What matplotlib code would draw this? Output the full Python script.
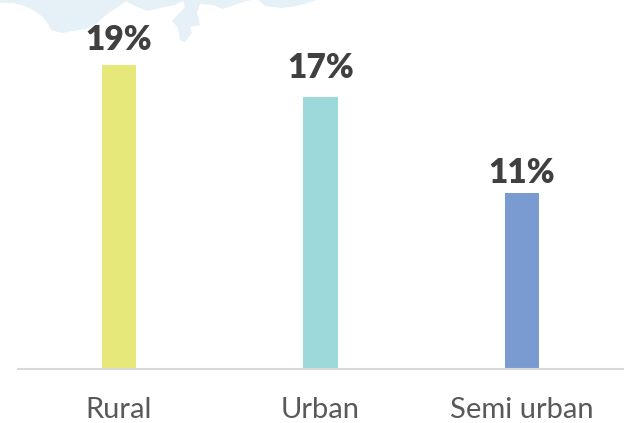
import matplotlib
matplotlib.use("Agg")
import matplotlib.pyplot as plt

categories = ["Rural", "Urban", "Semi urban"]
values = [19, 17, 11]
colors = ["#e6e87a", "#9dd9db", "#7a9bd2"]

# faint map outline behind the chart, in pixels from the top left
map_x = [0, 13, 25, 33, 43, 48, 51, 62, 72, 85, 96, 105, 112, 126, 137, 148, 160, 175, 183, 185,
         172, 178, 180, 185, 192, 190, 200, 197, 200, 213, 223, 243, 252, 258, 265, 282, 297, 317, 317, 0]
map_y = [3, 3, 6, 10, 17, 24, 30, 33, 31, 29, 24, 16, 11, 1, 7, 11, 8, 5, 1, 7,
         21, 28, 40, 42, 33, 27, 25, 13, 4, 5, 9, 2, 0, 0, 6, 8, 6, 0, 0, 0]

W, H = 629, 423
fig = plt.figure(figsize=(W / 100, H / 100), dpi=100)

bg = fig.add_axes([0, 0, 1, 1])
bg.set_xlim(0, W)
bg.set_ylim(H, 0)
bg.axis("off")
bg.fill(map_x, map_y, color="#e5f0f7", linewidth=0)

ax = fig.add_axes([18 / W, (H - 369) / H, 605 / W, 369 / H])
ax.patch.set_alpha(0)
ax.bar(range(3), values, width=0.169, color=colors)
ax.set_xlim(-0.5, 2.5)
ax.set_ylim(0, 369 / 16)

# the labels do not sit at the same distance above each bar
offsets = [6.5, 9.5, 2.8]
for i, v in enumerate(values):
    ax.annotate(f"{v}%", (i, v), xytext=(0, offsets[i]), textcoords="offset points", ha="center", va="bottom",
                fontsize=24, fontweight="heavy", family="Lato", color="#404040")

for s in ["top", "left", "right"]:
    ax.spines[s].set_visible(False)
ax.spines["bottom"].set_color("#d9d9d9")
ax.spines["bottom"].set_linewidth(1.5)
ax.set_yticks([])
ax.set_xticks(range(3))
ax.set_xticklabels(categories, fontsize=21, family="Lato", color="#595959")
ax.tick_params(axis="x", length=0, pad=20)

fig.savefig("out.png", dpi=100)
